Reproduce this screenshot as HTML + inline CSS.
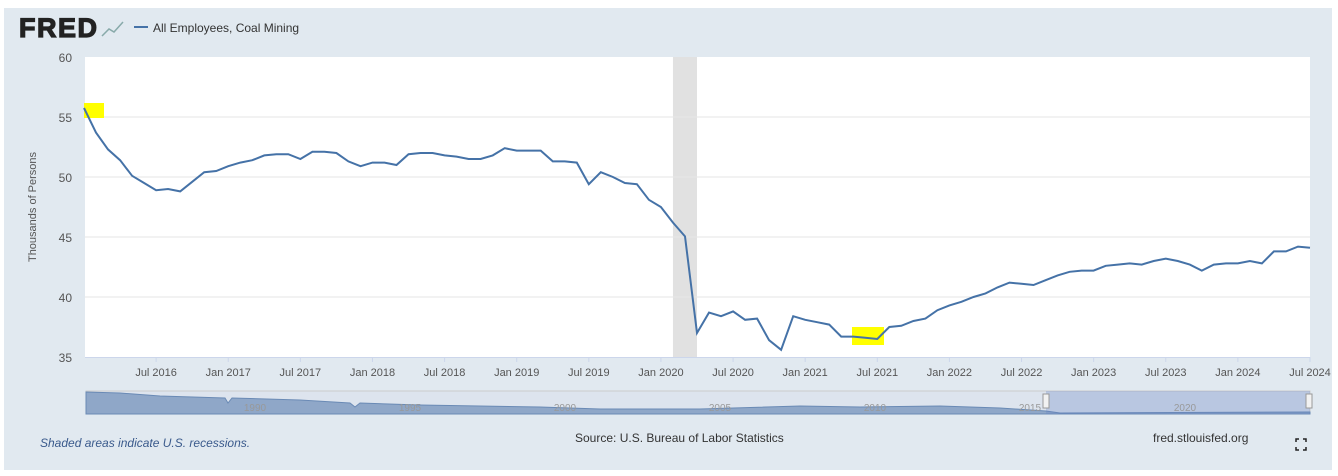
<!DOCTYPE html>
<html><head><meta charset="utf-8"><style>
body{margin:0;width:1338px;height:476px;overflow:hidden;background:#fff;font-family:"Liberation Sans",sans-serif}
#wrap{position:absolute;left:4px;top:8px;width:1328px;height:462px;background:#e1e9f0}
</style></head><body>
<div id="wrap"></div>
<svg id="svg" width="1338" height="476" style="position:absolute;left:0;top:0"></svg>
<script>
const months = 103; // Jan 2016 .. Jul 2024
const values = [55.75,53.7,52.3,51.4,50.1,49.5,48.9,49.0,48.8,49.6,50.4,50.5,50.9,51.2,51.4,51.8,51.9,51.9,51.5,52.1,52.1,52.0,51.3,50.9,51.2,51.2,51.0,51.9,52.0,52.0,51.8,51.7,51.5,51.5,51.8,52.4,52.2,52.2,52.2,51.3,51.3,51.2,49.4,50.4,50.0,49.5,49.4,48.1,47.5,46.2,45.05,
37.0,38.7,38.4,38.8,38.1,38.2,36.4,35.6,38.4,38.1,37.9,37.7,36.7,36.7,36.6,36.5,37.5,37.6,38.0,38.2,38.9,39.3,39.6,40.0,40.3,40.8,41.2,41.1,41.0,41.4,41.8,42.1,42.2,42.2,42.6,42.7,42.8,42.7,43.0,43.2,43.0,42.7,42.2,42.7,42.8,42.8,43.0,42.8,43.8,43.8,44.2,44.1];
const yTicks = [35,40,45,50,55,60];
const xTickLabels = ["Jul 2016","Jan 2017","Jul 2017","Jan 2018","Jul 2018","Jan 2019","Jul 2019","Jan 2020","Jul 2020","Jan 2021","Jul 2021","Jan 2022","Jul 2022","Jan 2023","Jul 2023","Jan 2024","Jul 2024"];
const xTickIdx = [6,12,18,24,30,36,42,48,54,60,66,72,78,84,90,96,102];
const recession = [49,51];
const navLabels = ["1990","1995","2000","2005","2010","2015","2020"];

const NS="http://www.w3.org/2000/svg";
const svg=document.getElementById('svg');
function el(t,a,p){const e=document.createElementNS(NS,t);for(const k in a)e.setAttribute(k,a[k]);(p||svg).appendChild(e);return e;}
const X0=84,X1=1310,Y0=357,Y1=57;
const x=i=>X0+(X1-X0)*i/102;
const y=v=>Y0-(v-35)*(Y0-Y1)/25;

let r=el('rect',{x:85,y:57,width:1225,height:300,fill:'#fff'});


r=el('rect',{x:x(recession[0]),y:57,width:x(recession[1])-x(recession[0]),height:300,fill:'#e1e1e1'});


yTicks.forEach(t=>{
  if(t>35&&t<60){const g=el('line',{x1:85,x2:1310,y1:y(t),y2:y(t),stroke:'#e6e6e6'});
  
  }
  const l=el('text',{x:72,y:y(t)+5,'text-anchor':'end','font-size':12,fill:'#555'});l.textContent=t;
  
  
});
el('line',{x1:85,x2:1310,y1:357.5,y2:357.5,stroke:'#ccd6eb'});
xTickIdx.forEach((idx,k)=>{
  el('line',{x1:x(idx),x2:x(idx),y1:357,y2:362,stroke:'#ccd6eb'});
  const l=el('text',{x:x(idx),y:376,'text-anchor':'middle','font-size':11,fill:'#555'});l.textContent=xTickLabels[k];
  
  
});
let yt=el('text',{x:0,y:0,transform:'translate(36,207) rotate(-90)','text-anchor':'middle','font-size':11,fill:'#555'});yt.textContent='Thousands of Persons';


// highlights
[[84,103,20,15],[852,327,32,18]].forEach(h=>{const e=el('rect',{x:h[0],y:h[1],width:h[2],height:h[3],fill:'#ffff00'});

});
let d=values.map((v,i)=>(i?'L':'M')+x(i).toFixed(1)+','+y(v).toFixed(1)).join('');
let ln=el('path',{d:d,fill:'none',stroke:'#4572a7','stroke-width':2});


// logo & legend
let lg=el('text',{x:19,y:37,'font-size':27,'font-weight':'bold',fill:'#222',stroke:'#222','stroke-width':1.2,'textLength':78});lg.textContent='FRED';


el('path',{d:'M102,36 L109,29 L114,32 L123,22',fill:'none',stroke:'#8aa','stroke-width':1.5});
el('line',{x1:134,x2:148,y1:27,y2:27,stroke:'#4572a7','stroke-width':2});
let le=el('text',{x:153,y:32,'font-size':12,fill:'#333'});le.textContent='All Employees, Coal Mining';


// navigator
let nb=el('rect',{x:86,y:391,width:1224,height:23,fill:'#dde4ee',stroke:'#ccc'});


el('path',{d:'M86,392 L120,393 L160,396 L225,398 L228,403 L232,398 L300,400 L350,403 L355,407 L360,403 L420,405 L540,407 L600,409 L700,409 L800,406 L860,407 L940,406 L1000,408 L1046,411 L1060,413 L1310,412 L1310,414 L86,414Z',fill:'#8fa7c8',stroke:'#6a8ab5'});
let sel=el('rect',{x:1046,y:391,width:264,height:23,fill:'rgba(102,133,194,0.3)'});


[1046,1309].forEach(hx=>{const h=el('rect',{x:hx-3,y:394,width:6,height:14,fill:'#f2f2f2',stroke:'#999'});

});
navLabels.forEach((t,k)=>{const l=el('text',{x:255+k*155,y:411,'font-size':10,fill:'#999','text-anchor':'middle'});l.textContent=t;

});
// footer
let f1=el('text',{x:40,y:447,'font-size':12,'font-style':'italic',fill:'#3a5a8c'});f1.textContent='Shaded areas indicate U.S. recessions.';


let f2=el('text',{x:575,y:442,'font-size':12,fill:'#333'});f2.textContent='Source: U.S. Bureau of Labor Statistics';


let f3=el('text',{x:1153,y:442,'font-size':12,fill:'#333'});f3.textContent='fred.stlouisfed.org';


let fs=el('path',{d:'M1296,442v-3h3M1303,439h3v3M1306,447v3h-3M1299,450h-3v-3',fill:'none',stroke:'#222','stroke-width':1.5});


</script>
</body></html>
